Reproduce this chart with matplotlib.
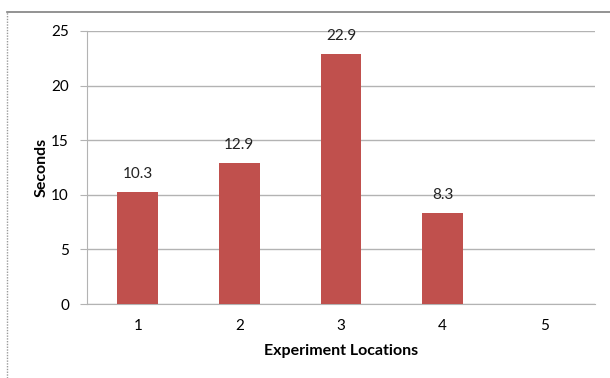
import matplotlib.pyplot as plt
from matplotlib.lines import Line2D

plt.rcParams['font.family'] = ['Lato', 'DejaVu Sans']

locations = [1, 2, 3, 4, 5]
seconds = [10.3, 12.9, 22.9, 8.3, None]

W, H = 610, 378
fig = plt.figure(figsize=(W / 100, H / 100), dpi=100)
ax = fig.add_axes([87 / W, 1 - 304 / H, (595 - 87) / W, (304 - 31) / H])

xs = [x for x, v in zip(locations, seconds) if v is not None]
vs = [v for v in seconds if v is not None]
ax.bar(xs, vs, width=0.4, color='#C0504D', zorder=3)
for x, v in zip(xs, vs):
    ax.text(x, v + 1.0, f"{v}", ha='center', va='bottom', fontsize=11, color='#222222')

ax.set_xlim(0.5, 5.5)
ax.set_ylim(0, 25)
ax.set_yticks(range(0, 26, 5))
ax.set_xticks(locations)
ax.grid(axis='y', color='#B3B3B3', linewidth=1, zorder=0)
for s in ['top', 'right']:
    ax.spines[s].set_visible(False)
ax.spines['left'].set_color('#B3B3B3')
ax.spines['bottom'].set_color('#B3B3B3')
ax.tick_params(axis='y', length=5, color='#B3B3B3', labelsize=11, pad=8)
ax.tick_params(axis='x', length=0, labelsize=11, pad=11)

ax.set_xlabel('Experiment Locations', fontweight='bold', fontsize=11.5, labelpad=8)
ax.set_ylabel('Seconds', fontweight='bold', fontsize=11.5, labelpad=2)

# outer chart border (only top and left visible in crop)
fig.add_artist(Line2D([7 / W, 1], [1 - 12 / H, 1 - 12 / H], transform=fig.transFigure,
                      color='#808080', linewidth=1.2))
fig.add_artist(Line2D([7 / W, 7 / W], [0, 1 - 12 / H], transform=fig.transFigure,
                      color='#9A9A9A', linewidth=1, linestyle=(0, (1, 1))))

fig.savefig('out.png', dpi=100)
